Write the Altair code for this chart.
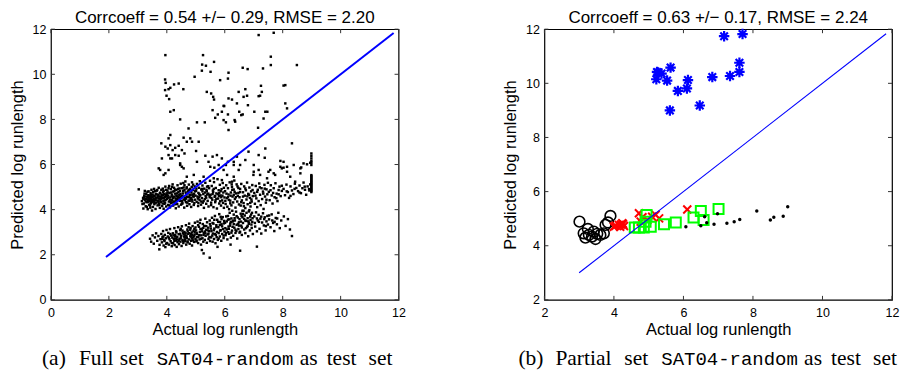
import altair as alt
import pandas as pd

# ---------------- left panel (a): full test set ----------------
UPPER_BAND = [
    (3.14,4.38),(3.18,4.52),(3.21,4.27),(3.22,4.61),(3.25,4.44),(3.27,4.15),(3.29,4.70),(3.31,4.33),(3.33,4.56),(3.34,4.02),
    (3.36,4.48),(3.37,4.81),(3.39,4.22),(3.40,4.63),(3.41,4.39),(3.43,4.09),(3.44,4.74),(3.45,4.51),(3.46,4.29),(3.47,4.88),
    (3.48,4.43),(3.49,3.96),(3.19,4.05),(3.24,4.83),(3.28,4.47),(3.35,4.35),(3.38,4.58),(3.42,4.18),(3.46,4.66),(3.16,4.25),
    (3.51,4.55),(3.52,4.12),(3.53,4.78),(3.55,4.36),(3.56,4.92),(3.57,4.24),(3.58,4.61),(3.60,4.45),(3.61,4.03),(3.62,4.70),
    (3.64,4.31),(3.65,4.84),(3.66,4.53),(3.68,4.19),(3.69,4.66),(3.70,4.40),(3.72,4.97),(3.73,4.27),(3.74,4.58),(3.76,4.08),
    (3.77,4.75),(3.78,4.47),(3.80,4.33),(3.81,4.88),(3.82,4.62),(3.84,4.16),(3.85,4.51),(3.87,4.79),(3.88,4.38),(3.89,4.04),
    (3.91,4.69),(3.92,4.26),(3.94,4.57),(3.95,5.02),(3.96,4.43),(3.98,4.14),(3.99,4.72),(3.54,4.49),(3.71,4.63),(3.86,4.93),
    (4.01,4.48),(4.02,4.85),(4.04,4.21),(4.05,4.62),(4.07,4.36),(4.08,5.05),(4.09,4.74),(4.11,4.10),(4.12,4.54),(4.14,4.91),
    (4.15,4.29),(4.17,4.67),(4.18,4.43),(4.20,5.12),(4.21,4.80),(4.22,4.18),(4.24,4.58),(4.25,4.97),(4.27,4.34),(4.28,4.71),
    (4.30,4.50),(4.31,4.06),(4.33,4.87),(4.34,4.61),(4.36,4.25),(4.37,5.08),(4.38,4.44),(4.40,4.78),(4.41,4.14),(4.43,4.65),
    (4.44,4.94),(4.46,4.39),(4.47,4.56),(4.48,5.15),(4.49,4.22),(4.06,4.95),(4.19,4.32),(4.29,4.89),(4.39,4.55),(4.45,4.82),
    (4.51,4.60),(4.52,4.95),(4.54,4.28),(4.55,4.72),(4.57,5.18),(4.58,4.45),(4.60,4.09),(4.61,4.86),(4.63,4.53),(4.64,5.25),
    (4.66,4.33),(4.67,4.68),(4.69,4.99),(4.70,4.17),(4.72,4.57),(4.73,4.81),(4.75,4.40),(4.76,5.11),(4.78,4.24),(4.79,4.64),
    (4.81,4.92),(4.82,4.48),(4.84,4.12),(4.85,4.77),(4.87,5.21),(4.88,4.36),(4.90,4.59),(4.91,4.88),(4.93,4.21),(4.94,4.70),
    (4.96,5.03),(4.97,4.44),(4.99,4.62),(4.53,4.38),(4.65,4.76),(4.77,4.55),(4.86,5.01),(4.95,4.29),
    (5.01,4.83),(5.03,4.35),(5.04,5.14),(5.06,4.58),(5.08,4.16),(5.09,4.74),(5.11,4.97),(5.13,4.42),(5.14,5.26),(5.16,4.64),
    (5.18,4.22),(5.19,4.89),(5.21,4.51),(5.23,5.07),(5.24,4.31),(5.26,4.69),(5.28,4.08),(5.29,4.93),(5.31,4.47),(5.33,5.19),
    (5.34,4.60),(5.36,4.26),(5.38,4.81),(5.39,5.02),(5.41,4.39),(5.43,4.71),(5.44,4.14),(5.46,4.95),(5.48,4.55),(5.49,5.28),
    (5.12,4.70),(5.37,4.88),
    (5.51,4.66),(5.53,4.20),(5.55,5.05),(5.57,4.44),(5.59,4.85),(5.61,4.11),(5.63,5.22),(5.65,4.57),(5.67,4.33),(5.69,4.96),
    (5.71,4.72),(5.73,4.05),(5.75,5.35),(5.77,4.49),(5.79,4.86),(5.81,4.27),(5.83,5.10),(5.85,4.63),(5.87,4.18),(5.89,4.91),
    (5.91,4.41),(5.93,5.18),(5.95,4.76),(5.97,4.08),(5.99,4.54),(5.60,4.78),(5.80,4.60),(5.94,4.30),
    (6.01,4.82),(6.03,4.25),(6.05,5.08),(6.07,4.51),(6.09,4.13),(6.11,4.95),(6.13,4.67),(6.15,4.02),(6.17,5.21),(6.19,4.40),
    (6.21,4.76),(6.23,4.19),(6.25,5.01),(6.27,4.58),(6.29,4.32),(6.31,4.89),(6.33,5.29),(6.35,4.47),(6.37,4.09),(6.39,4.72),
    (6.41,5.12),(6.43,4.36),(6.45,4.61),(6.47,4.96),(6.49,4.23),(6.20,4.62),
    (6.51,4.55),(6.53,4.92),(6.55,4.18),(6.57,5.14),(6.59,4.41),(6.61,3.95),(6.63,4.77),(6.65,4.29),(6.67,5.03),(6.69,4.62),
    (6.71,4.07),(6.73,4.86),(6.75,4.45),(6.77,5.20),(6.79,4.24),(6.81,4.70),(6.83,3.92),(6.85,4.98),(6.87,4.52),(6.89,4.14),
    (6.91,4.81),(6.93,4.36),(6.95,5.09),(6.97,4.60),
    (7.02,4.74),(7.04,4.26),(7.07,5.05),(7.09,4.50),(7.12,4.11),(7.14,4.88),(7.17,4.38),(7.19,5.16),(7.22,4.66),(7.24,4.20),
    (7.27,4.95),(7.29,4.47),(7.32,4.80),(7.34,4.03),(7.37,5.10),(7.39,4.58),(7.42,4.31),(7.44,4.90),(7.47,4.68),(7.49,5.19),
    (7.52,4.79),(7.55,4.42),(7.59,5.08),(7.62,4.63),(7.65,4.27),(7.69,4.95),(7.72,4.55),(7.75,5.17),(7.79,4.71),(7.82,4.38),
    (7.86,4.87),(7.89,5.02),(7.93,4.60),(7.97,4.83),
    (8.03,4.92),(8.08,4.64),(8.13,5.11),(8.18,4.78),(8.22,4.52),(8.27,5.03),(8.32,4.85),(8.37,4.69),(8.42,5.15),(8.47,4.96),
    (8.53,4.82),(8.58,5.07),(8.63,4.73),(8.68,4.95),(8.72,5.20),(8.77,4.88),(8.81,4.66),(8.86,5.03),(8.91,4.91),(8.95,5.12),
]

UPPER_CORE = [
    (3.23,4.71),(3.58,4.29),(4.44,4.47),(3.31,4.12),(5.07,4.49),(3.67,4.87),(4.13,4.33),(3.45,4.57),(4.82,4.66),(3.92,4.41),
    (5.62,4.92),(3.36,4.64),(4.26,4.83),(3.74,4.21),(4.58,4.98),(3.19,4.47),(5.19,4.36),(3.83,4.67),(4.71,4.31),(4.05,4.53),
    (3.52,4.36),(4.36,4.72),(3.97,4.88),(5.32,4.76),(3.29,4.58),(4.63,4.42),(3.61,4.52),(4.18,5.01),(5.54,4.52),(3.86,4.27),
    (4.91,5.11),(3.42,4.46),(4.52,4.27),(3.79,4.56),(5.76,4.69),(4.09,4.19),(3.27,4.36),(4.97,4.81),(3.64,4.68),(4.32,4.41),
    (5.43,5.04),(3.89,4.83),(4.69,4.56),(3.51,4.67),(4.22,4.51),(6.06,4.71),(3.71,4.35),(4.87,4.44),(3.33,4.79),(4.47,4.69),
    (5.14,4.63),(3.94,4.31),(4.61,5.08),(3.56,4.43),(4.28,4.24),(5.86,4.82),(3.81,4.49),(4.76,4.88),(3.39,4.54),(4.14,4.76),
    (5.27,4.38),(3.69,4.59),(4.54,4.61),(4.01,4.66),(6.26,4.88),(3.47,4.34),(4.84,4.52),(3.76,4.72),(4.39,4.92),(5.68,4.41),
    (3.21,4.53),(4.66,4.49),(3.99,4.58),(5.02,4.93),(3.63,4.41),(4.33,4.62),(6.47,4.74),(3.87,4.63),(4.74,4.73),(3.44,4.28),
    (5.36,4.53),(4.11,4.44),(3.59,4.82),(4.93,4.58),(4.24,4.36),(5.92,4.62),(3.73,4.49),(4.56,4.83),(3.35,4.42),(5.58,4.69),
    (4.03,4.76),(4.79,4.39),(6.63,4.58),(3.91,4.52),(4.46,4.52),(5.23,4.81),(3.54,4.61),(4.17,4.59),(6.14,4.43),(4.68,4.94),
    (3.78,4.39),(5.47,4.64),(4.35,4.48),(6.84,4.66),(3.96,4.65),(5.11,4.54),(4.89,4.67),(5.71,4.48),(6.38,4.55),(7.06,4.62),
    (6.71,4.94),(7.33,4.71),(5.97,4.97),(6.92,4.45),(7.58,4.86),(6.19,4.28),(7.21,4.99),(5.81,4.73),(6.57,4.33),(7.86,4.68),
    (6.02,4.39),(7.44,4.44),(6.44,5.03),(8.14,4.81),(6.78,4.59),(7.12,4.79),(8.41,4.92),(6.31,4.66),(7.67,4.74),(8.76,5.02),
    (6.96,4.87),(7.97,5.06),(8.58,4.76),(6.66,4.15),(7.38,4.93),(8.27,4.61),(6.88,4.30),(7.78,4.51),(8.92,4.85),(6.24,5.12),
    (5.53,4.31),(5.88,4.55),(6.53,4.78),(5.21,4.92),(5.67,4.61),(6.11,4.55),(5.39,4.67),(5.84,4.37),(6.34,4.79),(5.09,4.29),
]

LOWER_BAND = [
    (3.42,2.71),(3.46,2.58),(3.51,2.86),(3.55,2.49),(3.59,2.77),(3.63,2.95),(3.67,2.62),(3.71,2.83),(3.75,2.44),(3.78,2.69),
    (3.81,2.92),(3.83,2.55),(3.85,2.78),(3.87,3.05),(3.89,2.41),(3.91,2.66),(3.93,2.88),(3.95,2.34),(3.97,2.73),(3.99,3.10),
    (4.01,2.52),(4.03,2.81),(4.05,2.97),(4.07,2.45),(4.09,2.69),(4.11,3.14),(4.13,2.60),(4.15,2.85),(4.17,2.38),(4.19,2.76),
    (4.21,2.95),(4.22,2.51),(4.24,2.71),(4.26,3.18),(4.27,2.43),(4.29,2.88),(4.31,2.63),(4.32,3.04),(4.34,2.35),(4.36,2.79),
    (4.37,2.56),(4.39,3.22),(4.41,2.91),(4.42,2.47),(4.44,2.70),(4.46,3.09),(4.47,2.58),(4.49,2.84),(4.51,2.39),(4.52,3.26),
    (4.54,2.66),(4.56,2.97),(4.57,2.52),(4.59,2.81),(4.33,2.99),(4.48,3.15),
    (4.61,3.01),(4.62,2.60),(4.64,2.86),(4.66,3.31),(4.67,2.45),(4.69,2.74),(4.71,3.12),(4.72,2.55),(4.74,2.93),(4.76,2.68),
    (4.77,3.38),(4.79,2.49),(4.81,2.82),(4.82,3.19),(4.84,2.62),(4.86,2.99),(4.87,2.41),(4.89,3.27),(4.91,2.76),(4.92,3.06),
    (4.94,2.57),(4.96,2.90),(4.97,3.42),(4.99,2.70),(4.65,2.95),(4.75,3.22),(4.85,2.80),(4.95,3.15),
    (5.01,3.08),(5.03,2.63),(5.04,2.92),(5.06,3.47),(5.08,2.52),(5.09,2.79),(5.11,3.24),(5.13,2.68),(5.14,3.01),(5.16,3.55),
    (5.18,2.45),(5.19,2.86),(5.21,3.15),(5.23,2.73),(5.24,3.36),(5.26,2.58),(5.28,2.97),(5.29,3.28),(5.31,2.66),(5.33,3.60),
    (5.34,2.84),(5.36,3.11),(5.38,2.53),(5.39,3.44),(5.41,2.90),(5.43,3.20),(5.44,2.71),(5.46,3.05),(5.48,3.52),(5.49,2.61),
    (5.51,3.27),(5.53,2.77),(5.54,3.05),(5.56,3.64),(5.58,2.58),(5.59,2.94),(5.61,3.38),(5.63,2.70),(5.64,3.16),(5.66,3.72),
    (5.68,2.51),(5.69,2.88),(5.71,3.31),(5.73,3.01),(5.74,3.55),(5.76,2.66),(5.78,3.22),(5.79,2.96),(5.81,3.80),(5.83,2.81),
    (5.84,3.45),(5.86,3.09),(5.88,2.62),(5.89,3.35),(5.91,2.92),(5.93,3.67),(5.94,3.14),(5.96,2.74),(5.98,3.50),(5.99,3.03),
    (6.01,3.42),(6.03,2.87),(6.05,3.70),(6.07,3.12),(6.09,2.68),(6.11,3.56),(6.13,3.25),(6.15,2.93),(6.17,3.86),(6.19,3.38),
    (6.21,2.76),(6.23,3.61),(6.25,3.07),(6.27,3.47),(6.29,2.84),(6.31,3.78),(6.33,3.20),(6.35,3.52),(6.37,2.97),(6.39,3.91),
    (6.41,3.33),(6.43,2.72),(6.45,3.65),(6.47,3.14),(6.49,3.44),(6.12,3.00),(6.26,3.95),(6.40,3.05),
    (6.51,3.58),(6.53,3.02),(6.55,3.82),(6.57,3.29),(6.59,2.88),(6.61,3.66),(6.63,3.41),(6.65,3.95),(6.67,3.12),(6.69,3.74),
    (6.71,2.96),(6.73,3.50),(6.75,3.86),(6.77,3.23),(6.79,3.62),(6.81,2.82),(6.83,3.37),(6.85,3.98),(6.87,3.08),(6.89,3.55),
    (6.91,3.78),(6.93,3.19),(6.95,3.46),(6.97,2.92),
    (7.02,3.70),(7.05,3.25),(7.08,3.88),(7.11,3.04),(7.14,3.52),(7.17,3.77),(7.20,3.15),(7.23,3.60),(7.26,2.94),(7.29,3.43),
    (7.32,3.84),(7.35,3.30),(7.38,3.66),(7.41,3.08),(7.44,3.48),(7.47,3.72),
    (7.53,3.57),(7.58,3.22),(7.62,3.79),(7.67,3.41),(7.71,3.05),(7.76,3.63),(7.80,3.35),(7.85,3.86),(7.90,3.18),(7.95,3.52),
    (8.04,3.70),(8.10,3.28),(8.18,3.58),(8.25,3.12),(8.32,2.83),
    (5.21,2.21),(5.27,2.06),(5.48,1.87),(3.74,2.24),(7.11,2.36),(6.53,2.18),(3.03,4.90),(6.20,2.45),(5.75,2.35),
]

LOWER_CORE = [
    (4.41,2.63),(5.62,3.09),(4.86,2.72),(6.18,3.29),(3.92,2.61),(5.27,2.88),(6.71,3.52),(4.58,2.91),(5.83,3.32),(4.17,2.52),
    (6.46,3.37),(5.04,2.78),(4.72,3.04),(5.96,2.85),(3.84,2.70),(6.34,3.62),(5.41,3.08),(4.29,2.81),(6.88,3.69),(5.16,3.14),
    (4.63,2.67),(5.72,2.78),(6.07,3.48),(4.96,3.02),(3.98,2.49),(6.59,3.21),(5.33,2.95),(4.48,2.74),(6.23,2.98),(5.58,3.41),
    (4.83,2.91),(7.04,3.41),(5.08,3.31),(4.23,2.86),(5.89,3.58),(6.51,2.98),(4.68,2.82),(5.47,2.79),(6.29,3.51),(4.07,2.76),
    (5.21,3.04),(6.79,3.28),(4.91,2.64),(5.77,3.46),(4.36,2.68),(6.14,3.15),(5.52,3.16),(4.54,3.07),(6.96,3.62),(5.12,2.87),
    (4.77,2.96),(6.41,3.71),(5.66,2.92),(4.12,2.92),(6.02,3.18),(5.36,3.27),(4.94,2.82),(6.63,3.81),(5.84,3.07),(4.62,2.76),
    (7.18,3.46),(5.26,3.19),(4.46,2.93),(6.27,3.24),(5.03,2.97),(3.88,2.81),(6.84,3.43),(5.71,3.23),(4.31,2.72),(5.97,3.39),
    (6.56,3.47),(5.44,2.94),(4.81,3.11),(7.36,3.58),(5.18,2.71),(6.11,3.72),(4.71,2.59),(5.91,3.26),(6.73,3.18),(5.57,2.85),
    (4.99,3.21),(6.37,3.11),(7.53,3.74),(5.31,3.03),(4.56,2.62),(6.92,3.34),(5.79,2.72),(4.26,2.62),(6.21,3.45),(5.14,3.41),
    (7.26,3.69),(5.64,3.55),(6.49,3.29),(4.88,2.88),(6.04,2.97),(7.64,3.52),(5.49,3.36),(6.67,3.59),(5.02,2.59),(7.42,3.27),
    (6.16,3.57),(5.86,3.68),(6.94,3.86),(7.11,3.61),(6.31,3.36),(7.81,3.61),(6.58,3.72),(7.49,3.34),(6.81,3.48),(7.72,3.46),
]

SPARSE_HIGH = [
    (3.95,10.85),(5.25,10.85),(5.22,10.43),(5.35,10.38),(5.63,10.55),(5.21,10.16),(5.51,10.11),(4.96,9.89),(3.94,9.77),(3.96,9.62),
    (4.25,9.55),(4.41,9.59),(3.94,9.30),(4.06,9.34),(4.12,9.40),(4.57,9.34),(3.99,9.05),(4.08,8.90),(5.84,9.74),(6.13,10.07),
    (6.11,9.81),(5.38,9.22),(5.53,9.15),(5.60,9.00),(5.63,8.88),(5.98,8.59),(6.13,8.93),(6.25,8.88),(6.42,8.71),(6.48,9.22),
    (6.62,10.29),(6.79,10.23),(6.71,9.34),(6.77,9.05),(6.50,8.34),(6.62,8.22),(7.02,8.34),(7.22,9.05),(7.28,9.22),(7.47,8.34),
    (7.59,10.78),(7.59,10.41),(7.17,11.74),(7.69,11.84),(8.49,10.41),(8.09,9.52),(8.03,9.50),(8.15,8.49),(8.09,8.71),(5.58,8.41),
    (5.67,8.07),(5.76,8.22),(5.90,8.34),(5.96,7.97),(6.04,7.87),(4.12,8.34),(4.24,8.41),(4.46,8.00),(4.75,7.60),(5.04,7.87),
    (5.31,7.87),(6.13,7.53),(6.36,7.90),(7.32,10.26),(7.25,9.49),(7.17,9.03),(6.65,9.00),(6.80,8.63),(7.40,8.34),(5.96,8.60),
    (6.11,8.22),(6.34,7.97),(6.57,8.19),(7.34,8.04),(7.15,7.63),
]

SPARSE_MID = [
    (3.81,6.94),(3.95,6.79),(4.03,6.71),(4.12,6.86),(4.20,6.64),(4.29,6.74),(4.06,7.16),(4.12,7.31),(4.58,7.19),(4.69,7.01),
    (4.81,7.16),(4.87,7.01),(4.41,6.83),(4.52,6.64),(4.61,6.49),(4.29,6.42),(3.83,6.27),(4.12,6.27),(4.46,5.98),(4.58,5.83),
    (3.72,5.83),(3.77,5.76),(3.95,5.61),(3.89,5.54),(5.01,6.60),(5.10,7.01),(5.33,6.39),(5.58,6.35),(5.64,5.86),(5.79,5.98),
    (5.44,6.12),(5.90,6.27),(6.82,6.57),(7.17,6.42),(7.40,6.71),(7.51,5.68),(7.97,5.83),(8.15,5.90),(8.32,6.94),(8.43,5.24),
    (8.61,5.83),(7.74,5.54),(6.42,6.35),(6.48,5.76),(6.25,5.24),(5.90,5.31),(6.04,5.98),(6.99,5.54),(7.17,5.76),(7.38,6.30),
    (7.92,6.16),(8.03,5.86),(8.64,5.87),(8.84,6.01),(8.95,6.08),(6.11,6.12),(6.31,5.98),(4.06,6.42),(4.18,6.27),(4.41,6.39),
    (4.46,6.05),(4.52,5.90),(4.06,5.76),(5.04,6.12),(5.50,5.90),(5.73,6.42),(5.96,5.76),(6.31,6.12),(6.53,5.98),(6.71,6.20),
    (7.00,5.98),(7.57,5.76),(7.92,5.90),(8.03,6.12),(8.38,5.98),(8.72,6.05),(7.00,5.68),(7.22,5.54),(7.46,5.39),(6.08,5.54),
    (6.31,5.46),(5.62,5.39),(5.27,5.46),(4.93,5.54),(4.69,5.46),(8.61,5.61),(8.26,5.46),(8.15,5.68),(7.69,5.61),
]

COLUMN_X = 8.99
COLUMN_Y = [4.78,4.83,4.88,4.93,4.98,5.03,5.08,5.13,5.18,5.23,5.28,5.33,5.38,5.43,5.48,5.53,
            5.98,6.08,6.16,6.27,6.38,6.49]

LINE_A = [1.9, 11.83]
TICKS_A = [0, 2, 4, 6, 8, 10, 12]
TITLE_A = "Corrcoeff = 0.54 +/\u2212 0.29, RMSE = 2.20"

# ---------------- right panel (b): partial test set ----------------
STAR_X = [7.17,7.70,7.61,7.61,7.34,6.83,6.13,6.10,5.84,5.63,5.27,5.37,5.22,5.53,5.61,6.47,5.24]
STAR_Y = [11.74,11.82,10.76,10.42,10.27,10.23,10.12,9.81,9.72,10.58,10.40,10.36,10.15,10.10,9.00,9.18,10.42]

CIRCLE_X = [3.01,3.25,3.13,3.28,3.37,3.42,3.52,3.61,3.71,3.76,3.90,3.83,3.18,3.47]
CIRCLE_Y = [4.89,4.62,4.46,4.40,4.34,4.52,4.44,4.40,4.46,4.77,5.10,4.86,4.30,4.25]

CROSS_X = [4.00,4.05,4.14,4.18,4.24,4.26,4.29,4.72,4.77,4.82,4.96,5.10,5.20,5.30,6.11,4.20]
CROSS_Y = [4.70,4.74,4.77,4.70,4.83,4.80,4.73,5.20,4.89,5.05,4.95,5.07,5.14,5.01,5.34,4.78]

SQUARE_X = [4.60,4.72,4.86,4.91,4.94,5.06,5.44,5.78,6.29,6.50,6.58,7.01]
SQUARE_Y = [4.67,4.67,4.67,4.89,5.14,4.70,4.79,4.86,5.04,5.28,4.95,5.36]

DOT_X = [6.07,6.50,6.61,6.67,6.88,6.98,7.25,7.46,7.62,8.11,8.50,8.60,8.87,9.00]
DOT_Y = [4.70,4.74,5.07,4.85,4.79,5.18,4.83,4.89,4.97,5.28,4.95,5.05,5.09,5.44]

LINE_B = [3.0, 11.83]
TICKS_B = [2, 4, 6, 8, 10, 12]
TITLE_B = "Corrcoeff = 0.63 +/\u2212 0.17, RMSE = 2.24"

CAPTION_A = ["(a)", "Full", "set", "SAT04-random", "as", "test", "set"]
CAPTION_B = ["(b)", "Partial", "set", "SAT04-random", "as", "test", "set"]

# ---------------- layout / style ----------------
W, H = 348, 271
SANS = "Liberation Sans"
SERIF = "Liberation Serif"
MONO = "Liberation Mono"
TL = 4  # inward tick length

ASTERISK = "M-1,0L1,0M0,-1L0,1M-0.72,-0.72L0.72,0.72M-0.72,0.72L0.72,-0.72"
XMARK = "M-1,-1L1,1M-1,1L1,-1"


def make_enc(dom, ticks):
    xs = alt.Scale(domain=dom, nice=False, zero=False)
    ys = alt.Scale(domain=dom, nice=False, zero=False)
    xaxis = alt.Axis(values=ticks, title="Actual log runlength", labelFlush=False,
                     labelPadding=7, titlePadding=2, labelOverlap=False)
    yaxis = alt.Axis(values=ticks, title="Predicted log runlength", labelFlush=False,
                     labelPadding=5, titlePadding=7, labelOverlap=False)

    def X(f):
        return alt.X(f, scale=xs, axis=xaxis)

    def Y(f):
        return alt.Y(f, scale=ys, axis=yaxis)
    return X, Y


def frame_layers(X, Y, ticks):
    tdf = pd.DataFrame({"t": ticks})
    tick = alt.Chart(tdf).mark_rule(color="#333333", strokeWidth=1)
    bottom = tick.encode(x=X("t:Q"), y=alt.value(H), y2=alt.value(H - TL))
    top = tick.encode(x=X("t:Q"), y=alt.value(0), y2=alt.value(TL))
    left = tick.encode(y=Y("t:Q"), x=alt.value(0), x2=alt.value(TL))
    right = tick.encode(y=Y("t:Q"), x=alt.value(W - TL), x2=alt.value(W))
    return [bottom, top, left, right]


def caption_layers(parts, xpos, ybase):
    layers = []
    for txt, xp in zip(parts, xpos):
        mono = txt.startswith("SAT")
        layers.append(
            alt.Chart(pd.DataFrame({"c": [txt]})).mark_text(
                align="left", baseline="alphabetic", color="black",
                font=MONO if mono else SERIF, fontSize=19 if mono else 21.5
            ).encode(x=alt.value(xp), y=alt.value(ybase), text="c:N")
        )
    return layers


def diag(line, X, Y, width):
    df = pd.DataFrame({"x": line, "y": line})
    return alt.Chart(df).mark_line(color="#0000ff", strokeWidth=width).encode(x=X("x:Q"), y=Y("y:Q"))


CAP_Y = 336
TITLE_KW = dict(font=SANS, fontSize=17, fontWeight="normal", color="black", offset=-4, anchor="middle")

# ----- panel A -----
XA, YA = make_enc([0, 12], TICKS_A)
ptsA = pd.DataFrame(UPPER_BAND + UPPER_CORE + LOWER_BAND + LOWER_CORE + SPARSE_HIGH + SPARSE_MID +
                    [(COLUMN_X, v) for v in COLUMN_Y], columns=["x", "y"])
dotsA = alt.Chart(ptsA).mark_square(size=6, color="black", opacity=1).encode(x=XA("x:Q"), y=YA("y:Q"))
panelA = alt.layer(
    dotsA, *frame_layers(XA, YA, TICKS_A), diag(LINE_A, XA, YA, 2),
    *caption_layers(CAPTION_A, [-9, 28, 69, 106, 249, 276, 318], CAP_Y)
).properties(width=W, height=H, title=alt.TitleParams(TITLE_A, **TITLE_KW))

# ----- panel B -----
XB, YB = make_enc([2, 12], TICKS_B)


def pts(xv, yv):
    return pd.DataFrame({"x": xv, "y": yv})


circles = alt.Chart(pts(CIRCLE_X, CIRCLE_Y)).mark_point(
    shape="circle", filled=False, color="black", strokeWidth=1.6, size=115, opacity=1
).encode(x=XB("x:Q"), y=YB("y:Q"))
crosses = alt.Chart(pts(CROSS_X, CROSS_Y)).mark_point(
    shape=XMARK, filled=False, color="#ff0000", strokeWidth=2, size=64, opacity=1
).encode(x=XB("x:Q"), y=YB("y:Q"))
squares = alt.Chart(pts(SQUARE_X, SQUARE_Y)).mark_point(
    shape="square", filled=False, color="#00ff00", strokeWidth=2, size=100, opacity=1
).encode(x=XB("x:Q"), y=YB("y:Q"))
stars = alt.Chart(pts(STAR_X, STAR_Y)).mark_point(
    shape=ASTERISK, filled=False, color="#0000ff", strokeWidth=2.2, size=110, opacity=1
).encode(x=XB("x:Q"), y=YB("y:Q"))
dotsB = alt.Chart(pts(DOT_X, DOT_Y)).mark_circle(size=12, color="black", opacity=1).encode(
    x=XB("x:Q"), y=YB("y:Q"))

panelB = alt.layer(
    circles, crosses, squares, stars, dotsB, *frame_layers(XB, YB, TICKS_B), diag(LINE_B, XB, YB, 1.1),
    *caption_layers(CAPTION_B, [-26, 11, 80, 117, 260, 287, 329], CAP_Y)
).properties(width=W, height=H, title=alt.TitleParams(TITLE_B, **TITLE_KW))

chart = alt.hconcat(panelA, panelB, spacing=95).properties(padding=0).configure_view(
    stroke="black", strokeWidth=1.2
).configure_axis(
    labelFont=SANS, labelFontSize=12.5, labelColor="black",
    titleFont=SANS, titleFontSize=16.5, titleFontWeight="normal", titleColor="black",
    domain=False, ticks=False, grid=False
)

chart.save("out.html", embed_options={"renderer": "svg", "actions": False})
